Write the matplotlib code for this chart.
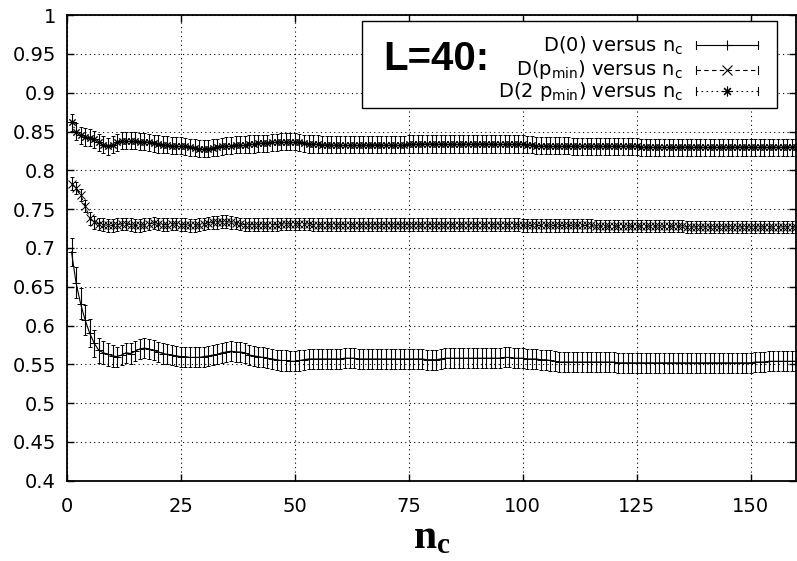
import numpy as np
import matplotlib.pyplot as plt

plt.rcParams['font.family'] = ['DejaVu Sans']
plt.rcParams['mathtext.fontset'] = 'custom'
plt.rcParams['mathtext.rm'] = 'DejaVu Sans'
plt.rcParams['mathtext.bf'] = 'Liberation Serif:bold'

# number of clusters n_c = 1..160
n_c = np.arange(1, 161)

# D(0) versus n_c
d0 = [0.695, 0.655, 0.628, 0.607, 0.590, 0.577, 0.568, 0.565, 0.563, 0.561,
      0.560, 0.562, 0.565, 0.564, 0.567, 0.570, 0.571, 0.570, 0.568, 0.566,
      0.564, 0.563, 0.562, 0.561, 0.560, 0.560, 0.559, 0.559, 0.559, 0.560,
      0.561, 0.562, 0.563, 0.565, 0.566, 0.567, 0.566, 0.566, 0.565, 0.562,
      0.561, 0.560, 0.559, 0.558, 0.557, 0.556, 0.555, 0.555, 0.554, 0.554,
      0.555, 0.556, 0.557, 0.557, 0.557, 0.557, 0.557, 0.557, 0.557, 0.557,
      0.558, 0.558, 0.558, 0.557, 0.557, 0.557, 0.557, 0.557, 0.557, 0.557,
      0.557, 0.557, 0.557, 0.557, 0.557, 0.557, 0.557, 0.557, 0.556, 0.556,
      0.556, 0.557, 0.558, 0.558, 0.558, 0.558, 0.558, 0.558, 0.558, 0.558,
      0.558, 0.558, 0.558, 0.558, 0.558, 0.559, 0.559, 0.558, 0.558, 0.558,
      0.557, 0.557, 0.557, 0.556, 0.556, 0.555, 0.554, 0.553, 0.553, 0.553,
      0.553, 0.553, 0.553, 0.553, 0.553, 0.553, 0.553, 0.553, 0.553, 0.553,
      0.552, 0.552, 0.552, 0.552, 0.552, 0.552, 0.552, 0.552, 0.552, 0.552,
      0.552, 0.552, 0.552, 0.552, 0.552, 0.552, 0.552, 0.552, 0.552, 0.552,
      0.552, 0.552, 0.552, 0.552, 0.552, 0.552, 0.552, 0.552, 0.552, 0.552,
      0.553, 0.553, 0.553, 0.554, 0.554, 0.554, 0.554, 0.554, 0.554, 0.554]
d0_err = [0.018, 0.020, 0.020, 0.019, 0.018, 0.017, 0.016, 0.015, 0.015, 0.014] + [0.013] * 150

# D(p_min) versus n_c
dp = [0.783, 0.777, 0.768, 0.754, 0.738, 0.733, 0.731, 0.730, 0.729, 0.729,
      0.730, 0.731, 0.731, 0.730, 0.729, 0.729, 0.730, 0.731, 0.732, 0.731,
      0.730, 0.730, 0.731, 0.731, 0.730, 0.730, 0.729, 0.729, 0.730, 0.731,
      0.732, 0.733, 0.733, 0.734, 0.734, 0.733, 0.732, 0.731, 0.730, 0.730,
      0.730, 0.730, 0.730, 0.730, 0.730, 0.730, 0.731, 0.731, 0.731, 0.731,
      0.731, 0.731, 0.731, 0.730, 0.730, 0.730, 0.730, 0.730, 0.730, 0.730,
      0.730, 0.730, 0.730, 0.730, 0.730, 0.730, 0.730, 0.730, 0.730, 0.730,
      0.730, 0.730, 0.730, 0.730, 0.730, 0.730, 0.730, 0.730, 0.730, 0.730,
      0.730, 0.730, 0.730, 0.730, 0.730, 0.730, 0.730, 0.730, 0.730, 0.730,
      0.730, 0.730, 0.730, 0.730, 0.730, 0.730, 0.730, 0.730, 0.730, 0.729,
      0.729, 0.729, 0.729, 0.729, 0.729, 0.729, 0.729, 0.729, 0.729, 0.729,
      0.729, 0.729, 0.729, 0.729, 0.729, 0.728, 0.728, 0.728, 0.728, 0.728,
      0.728, 0.728, 0.728, 0.728, 0.728, 0.728, 0.728, 0.728, 0.728, 0.728,
      0.728, 0.728, 0.728, 0.728, 0.728, 0.727, 0.727, 0.727, 0.727, 0.727,
      0.727, 0.727, 0.727, 0.727, 0.727, 0.727, 0.727, 0.727, 0.727, 0.727,
      0.727, 0.727, 0.727, 0.727, 0.727, 0.727, 0.727, 0.727, 0.727, 0.727]
dp_err = [0.008] * 160

# D(2 p_min) versus n_c
d2p = [0.862, 0.850, 0.845, 0.843, 0.842, 0.840, 0.836, 0.833, 0.831, 0.833,
       0.836, 0.838, 0.838, 0.838, 0.838, 0.837, 0.837, 0.836, 0.835, 0.834,
       0.833, 0.833, 0.832, 0.832, 0.832, 0.831, 0.830, 0.829, 0.828, 0.828,
       0.828, 0.829, 0.830, 0.831, 0.832, 0.832, 0.833, 0.833, 0.833, 0.834,
       0.834, 0.835, 0.835, 0.835, 0.836, 0.836, 0.837, 0.837, 0.837, 0.837,
       0.836, 0.835, 0.834, 0.834, 0.834, 0.833, 0.833, 0.833, 0.833, 0.833,
       0.833, 0.833, 0.833, 0.833, 0.833, 0.833, 0.833, 0.833, 0.833, 0.833,
       0.833, 0.833, 0.833, 0.833, 0.834, 0.834, 0.834, 0.834, 0.834, 0.834,
       0.834, 0.834, 0.834, 0.834, 0.834, 0.834, 0.834, 0.834, 0.834, 0.834,
       0.834, 0.834, 0.834, 0.834, 0.834, 0.834, 0.834, 0.834, 0.834, 0.834,
       0.833, 0.833, 0.832, 0.832, 0.832, 0.832, 0.832, 0.832, 0.832, 0.832,
       0.831, 0.831, 0.831, 0.831, 0.831, 0.831, 0.831, 0.831, 0.831, 0.831,
       0.831, 0.831, 0.831, 0.831, 0.831, 0.830, 0.830, 0.830, 0.830, 0.830,
       0.830, 0.830, 0.830, 0.830, 0.830, 0.830, 0.830, 0.830, 0.830, 0.830,
       0.830, 0.830, 0.830, 0.830, 0.830, 0.830, 0.830, 0.830, 0.830, 0.830,
       0.830, 0.830, 0.830, 0.830, 0.830, 0.830, 0.830, 0.830, 0.830, 0.830]
d2p_err = [0.011] * 160

labels = [r'D(0) versus n$_\mathrm{c}$',
          r'D(p$_\mathrm{min}$) versus n$_\mathrm{c}$',
          r'D(2 p$_\mathrm{min}$) versus n$_\mathrm{c}$']

fig = plt.figure(figsize=(7.97, 5.61), dpi=100)
ax = fig.add_axes([0.084, 0.143, 0.915, 0.830])

styles = [('-', '+'), ((0, (4, 3)), 'x'), ((0, (1.5, 3)), (8, 2, 0))]
series = [(d0, d0_err), (dp, dp_err), (d2p, d2p_err)]
for (y, e), (ls, mk) in zip(series, styles):
    ax.errorbar(n_c, y, yerr=e, color='black', linestyle=ls, linewidth=0.8,
                marker=mk, markersize=6, markeredgewidth=0.7,
                elinewidth=0.8, capsize=1.6, capthick=0.8)

ax.set_xlim(0, 160)
ax.set_ylim(0.4, 1.0)
ax.set_xticks([0, 25, 50, 75, 100, 125, 150])
yt = np.arange(0.4, 1.001, 0.05)
ax.set_yticks(yt)
ax.set_yticklabels(['%g' % round(v, 2) for v in yt])
ax.grid(True, color='black', linestyle=(0, (1, 3)), linewidth=0.8)
ax.tick_params(direction='in', length=5, width=1, top=True, right=True,
               labelsize=14)
ax.tick_params(axis='y', pad=8)
ax.tick_params(axis='x', pad=12)
for s in ax.spines.values():
    s.set_linewidth(1.3)

ax.set_xlabel(r'$\mathbf{n_c}$', fontsize=30)
ax.xaxis.set_label_coords(0.5, -0.075)

# legend box drawn gnuplot style
tr = ax.transAxes
box = plt.Rectangle((0.404, 0.80), 0.974 - 0.404, 0.188, transform=tr,
                    facecolor='white', edgecolor='black', linewidth=1.0, zorder=5)
ax.add_patch(box)
ax.text(0.434, 0.905, 'L=40:', transform=tr, fontsize=29, fontweight='bold',
        family='Liberation Sans', ha='left', va='center', zorder=6)
text_y = [0.921, 0.871, 0.824]
line_y = [0.936, 0.882, 0.837]
for lab, ty, yy, (ls, mk) in zip(labels, text_y, line_y, styles):
    ax.text(0.845, ty, lab, transform=tr, fontsize=14, ha='right',
            va='baseline', zorder=6)
    ax.plot([0.862, 0.948], [yy, yy], transform=tr, color='black', linestyle=ls,
            linewidth=0.8, zorder=6, clip_on=False)
    ax.plot([0.905], [yy], transform=tr, color='black', marker=mk, markersize=7,
            markeredgewidth=0.8, zorder=6, clip_on=False)
    for xx in (0.862, 0.948):
        ax.plot([xx, xx], [yy - 0.009, yy + 0.009], transform=tr, color='black',
                linewidth=0.8, zorder=6, clip_on=False)

fig.savefig('out.png', dpi=100)
